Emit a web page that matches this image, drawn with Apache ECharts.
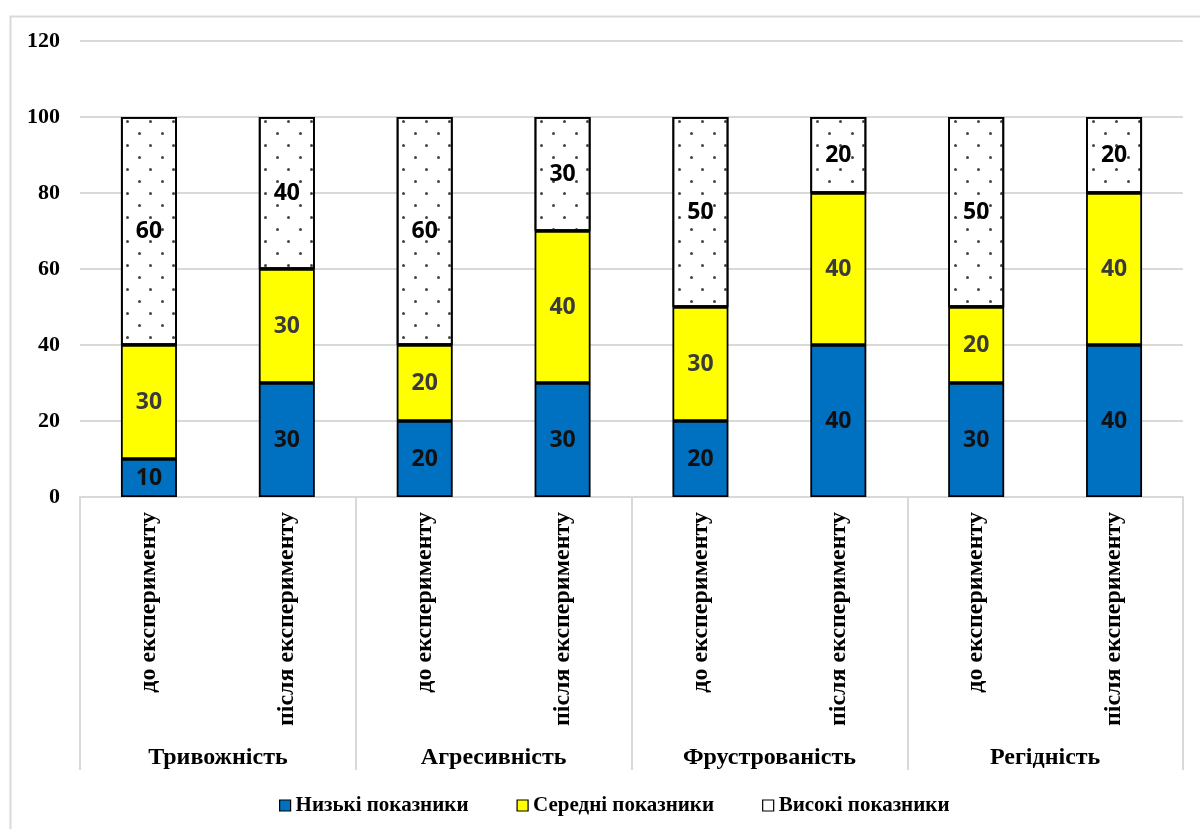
<!DOCTYPE html>
<html>
<head>
<meta charset="utf-8">
<script src="https://cdn.jsdelivr.net/npm/echarts@6/dist/echarts.min.js"></script>
<style>
html,body{margin:0;padding:0;background:#fff;}
#chart{width:1200px;height:829px;}
</style>
</head>
<body>
<div id="chart"></div>
<script>
const subCategories = ['до експерименту','після експерименту','до експерименту','після експерименту','до експерименту','після експерименту','до експерименту','після експерименту'];
const groups = ['Тривожність','Агресивність','Фрустрованість','Регідність'];
const seriesNames = ['Низькі показники','Середні показники','Високі показники'];
const lowValues = [10,30,20,30,20,40,30,40];
const midValues = [30,30,20,40,30,40,20,40];
const highValues = [60,40,60,30,50,20,50,20];

const serif = '"Liberation Serif", "Times New Roman", serif';
const numFont = '"Open Sans", "Noto Sans", sans-serif';

function labelStyle(color) {
  return {
    show: true, position: 'inside', color: color, fontFamily: numFont,
    fontWeight: 'bold', fontSize: 23
  };
}
const border = { borderColor: '#000', borderWidth: 1.8 };

const chart = echarts.init(document.getElementById('chart'));
chart.setOption({
  animation: false,
  backgroundColor: '#fff',
  graphic: [{
    type: 'rect', left: 8, top: 14, shape: { width: 1200, height: 830 },
    style: { fill: 'none', stroke: '#d9d9d9', lineWidth: 2 }, z: -1
  }],
  grid: { left: 80, right: 17, top: 41, bottom: 332 },
  legend: {
    bottom: 8, left: 274, itemWidth: 11, itemHeight: 11, itemGap: 48,
    icon: 'rect',
    textStyle: { fontFamily: serif, fontWeight: 'bold', fontSize: 21, color: '#000' },
    itemStyle: { borderColor: '#000', borderWidth: 1.2 },
    data: [
      { name: seriesNames[0] },
      { name: seriesNames[1] },
      { name: seriesNames[2], itemStyle: { decal: 'none', color: '#fff' } }
    ]
  },
  xAxis: [{
    type: 'category', data: subCategories, position: 'bottom',
    axisLine: { show: false }, axisTick: { show: false },
    axisLabel: { rotate: 90, margin: 15, fontFamily: serif, fontWeight: 'bold', fontSize: 24, color: '#000', interval: 0 }
  }, {
    type: 'category', data: groups, position: 'bottom', offset: 0,
    axisLine: { show: true, lineStyle: { color: '#d9d9d9', width: 2 } },
    axisTick: { show: true, length: 273, lineStyle: { color: '#d9d9d9', width: 2 } },
    axisLabel: { margin: 249, fontFamily: serif, fontWeight: 'bold', fontSize: 24, color: '#000', interval: 0 }
  }],
  yAxis: {
    type: 'value', min: 0, max: 120, interval: 20,
    axisLine: { show: false }, axisTick: { show: false },
    axisLabel: { margin: 20, fontFamily: serif, fontWeight: 'bold', fontSize: 22, color: '#000' },
    splitLine: { lineStyle: { color: '#d9d9d9', width: 2 } }
  },
  series: [{
    name: seriesNames[0], type: 'bar', stack: 'total', xAxisIndex: 0, barWidth: 56,
    data: lowValues, itemStyle: Object.assign({ color: '#0070C0' }, border), label: labelStyle('#111')
  }, {
    name: seriesNames[1], type: 'bar', stack: 'total', xAxisIndex: 0, barWidth: 56,
    data: midValues, itemStyle: Object.assign({ color: '#FFFF00' }, border), label: labelStyle('#3a3a3a')
  }, {
    name: seriesNames[2], type: 'bar', stack: 'total', xAxisIndex: 0, barWidth: 56,
    data: highValues,
    itemStyle: Object.assign({
      color: '#fff',
      decal: {
        symbol: 'circle', symbolSize: 1, color: '#444',
        dashArrayX: [[2.4, 19.3], [0, 10.85, 2.4, 8.45]],
        dashArrayY: [2.4, 8.5]
      }
    }, border),
    label: labelStyle('#000')
  }]
});
</script>
</body>
</html>
